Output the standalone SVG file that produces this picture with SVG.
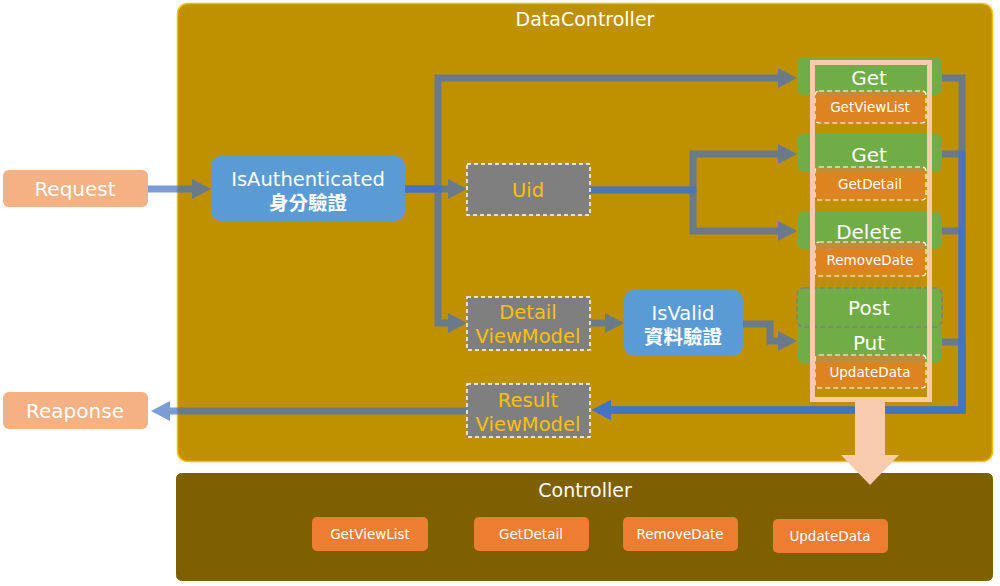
<svg xmlns="http://www.w3.org/2000/svg" width="1000" height="586" viewBox="0 0 1000 586">
<defs>
<style>
text{font-family:"DejaVu Sans","Noto Sans CJK TC",sans-serif;text-anchor:middle;}
.w{fill:#ffffff;}
.y{fill:#FFC000;}
.b{font-weight:bold;}
.t18{font-size:19.5px;}
.t12{font-size:13.5px;}
.conn{fill:none;stroke:#4472C4;stroke-opacity:0.7;stroke-width:7;marker-end:url(#ah);}
.gray{fill:#7F7F7F;stroke:#ffffff;stroke-width:1.5;stroke-dasharray:4 3;}
.green{fill:#70AD47;}
.sub{fill:#ED7D31;fill-opacity:0.65;stroke:#ffffff;stroke-width:1.2;stroke-dasharray:5 3;}
.btn{fill:#ED7D31;}
</style>
<marker id="ah" markerUnits="userSpaceOnUse" markerWidth="19" markerHeight="20" viewBox="0 0 19 20" refX="0" refY="10" orient="auto">
<path d="M0,0 L19,10 L0,20 z" fill="#4472C4" fill-opacity="0.7"/>
</marker>
</defs>
<rect width="1000" height="586" fill="#ffffff"/>

<g id="DataController">
<rect x="177.5" y="3.5" width="815" height="458" rx="10" fill="#BF9000" stroke="#FFC000" stroke-width="1.5"/>
<text x="585" y="26" class="w" style="font-size:19px">DataController</text>
</g>

<g id="Controller">
<rect x="176.5" y="473.5" width="816" height="107" rx="5" fill="#7F6000" stroke="#7F6000" stroke-width="1"/>
<text x="585" y="497" class="w" style="font-size:19px">Controller</text>
</g>

<g id="connectors">
<path class="conn" d="M148,189 H192"/>
<path class="conn" d="M405,189 H448"/>
<path class="conn" d="M405,189 H438 V78 H778"/>
<path class="conn" d="M405,189 H438 V323 H448"/>
<path class="conn" d="M590,190 H693 V154 H778"/>
<path class="conn" d="M590,190 H693 V231 H778"/>
<path class="conn" d="M590,323 H605"/>
<path class="conn" d="M743,324 H770 V341 H778"/>
<path class="conn" d="M942,78 H962 V410 H611"/>
<path class="conn" d="M942,154 H962 V410 H611"/>
<path class="conn" d="M942,231 H962 V410 H611"/>
<path class="conn" d="M942,342 H962 V410 H611"/>
<path class="conn" d="M467,411 H170"/>
</g>

<g id="Request">
<rect x="3" y="170" width="145" height="37" rx="6" fill="#F4B183"/>
<text x="75" y="196" class="w" style="font-size:20px">Request</text>
</g>
<g id="Reaponse">
<rect x="3" y="392" width="145" height="37" rx="6" fill="#F4B183"/>
<text x="75" y="418" class="w" style="font-size:20px">Reaponse</text>
</g>

<g id="IsAuthenticated">
<rect x="211" y="156" width="194" height="65" rx="10" fill="#5B9BD5"/>
<text x="308" y="186" class="w t18">IsAuthenticated</text>
<text x="308" y="210" class="w t18 b">身分驗證</text>
</g>

<g id="Uid">
<rect class="gray" x="467" y="164" width="123" height="51"/>
<text x="528" y="197" class="y t18">Uid</text>
</g>

<g id="DetailViewModel">
<rect class="gray" x="467" y="297" width="123" height="53"/>
<text x="528" y="319" class="y t18">Detail</text>
<text x="528" y="343" class="y t18">ViewModel</text>
</g>

<g id="ResultViewModel">
<rect class="gray" x="467" y="384" width="123" height="53"/>
<text x="528" y="407" class="y t18">Result</text>
<text x="528" y="431" class="y t18">ViewModel</text>
</g>

<g id="IsValid">
<rect x="624" y="290" width="119" height="66" rx="10" fill="#5B9BD5"/>
<text x="683" y="320" class="w t18">IsValid</text>
<text x="683" y="344" class="w t18 b">資料驗證</text>
</g>

<g id="Get1">
<rect class="green" x="797" y="57" width="145" height="38" rx="7"/>
<text x="869" y="85" class="w" style="font-size:20px">Get</text>
<rect class="sub" x="815" y="91" width="111" height="32" rx="4"/>
<text x="870" y="112" class="w t12">GetViewList</text>
</g>

<g id="Get2">
<rect class="green" x="797" y="134" width="145" height="38" rx="7"/>
<text x="869" y="162" class="w" style="font-size:20px">Get</text>
<rect class="sub" x="815" y="167" width="111" height="33" rx="4"/>
<text x="870" y="189" class="w t12">GetDetail</text>
</g>

<g id="Delete">
<rect class="green" x="797" y="212" width="145" height="37" rx="7"/>
<text x="869" y="239" class="w" style="font-size:20px">Delete</text>
<rect class="sub" x="815" y="242" width="111" height="34" rx="4"/>
<text x="870" y="265" class="w t12">RemoveDate</text>
</g>

<g id="PostPut">
<rect class="green" x="797" y="288" width="145" height="75" rx="7"/>
<rect x="797" y="288" width="145" height="39" rx="7" fill="none" stroke="#7F7F7F" stroke-width="1.5" stroke-dasharray="5 3"/>
<text x="869" y="315" class="w" style="font-size:20px">Post</text>
<text x="869" y="350" class="w" style="font-size:20px">Put</text>
<rect class="sub" x="815" y="355" width="111" height="33" rx="4"/>
<text x="870" y="377" class="w t12">UpdateData</text>
</g>

<g id="Frame">
<rect x="812.5" y="62.5" width="117" height="337" fill="none" stroke="#F8CBAD" stroke-width="5"/>
</g>

<g id="BigArrow">
<path d="M855,400 H885 V455 H899 L870,485 L841,455 H855 z" fill="#F8CBAD"/>
</g>

<g id="btnGetViewList">
<rect class="btn" x="312" y="517" width="116" height="34" rx="5"/>
<text x="370" y="539" class="w t12">GetViewList</text>
</g>
<g id="btnGetDetail">
<rect class="btn" x="474" y="517" width="115" height="34" rx="5"/>
<text x="531" y="539" class="w t12">GetDetail</text>
</g>
<g id="btnRemoveDate">
<rect class="btn" x="623" y="517" width="115" height="34" rx="5"/>
<text x="680" y="539" class="w t12">RemoveDate</text>
</g>
<g id="btnUpdateData">
<rect class="btn" x="773" y="519" width="115" height="34" rx="5"/>
<text x="830" y="541" class="w t12">UpdateData</text>
</g>
</svg>
